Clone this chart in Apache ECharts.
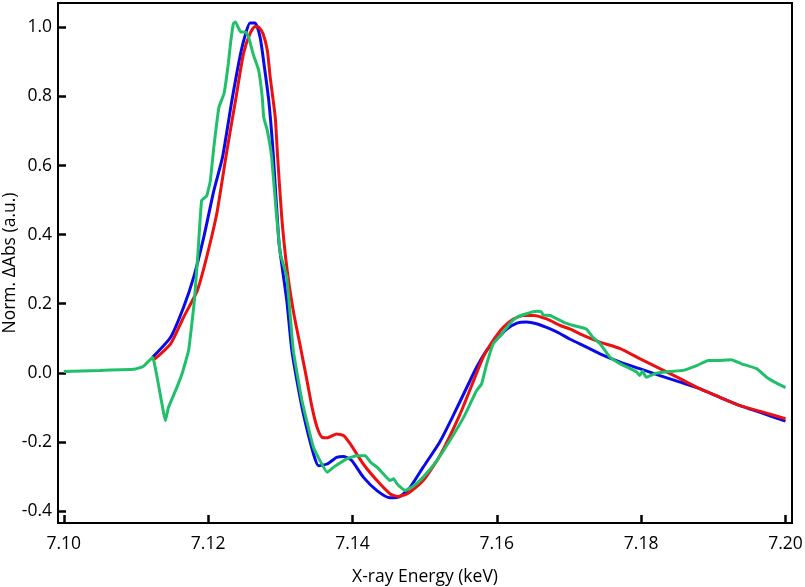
<!DOCTYPE html>
<html>
<head>
<meta charset="utf-8">
<script src="https://cdn.jsdelivr.net/npm/echarts@6/dist/echarts.min.js"></script>
<style>html,body{margin:0;padding:0;background:#fff}#c{width:805px;height:587px}</style>
</head>
<body>
<div id="c"></div>
<script>
const xTicks = [7.10, 7.12, 7.14, 7.16, 7.18, 7.20];
const yTicks = [-0.4, -0.2, 0.0, 0.2, 0.4, 0.6, 0.8, 1.0];

const blue = [
[7.1123,0.045],[7.1148,0.103],[7.1166,0.190],[7.1180,0.277],[7.1194,0.393],[7.1208,0.528],[7.1220,0.625],
[7.1233,0.789],[7.1245,0.924],[7.1252,0.982],[7.1258,1.013],[7.1265,1.013],[7.1272,0.972],[7.1278,0.885],
[7.1284,0.789],[7.1290,0.640],[7.1298,0.380],[7.1303,0.300],[7.1309,0.209],[7.1316,0.065],[7.1323,-0.022],
[7.1332,-0.119],[7.1346,-0.235],[7.1353,-0.269],[7.1365,-0.264],[7.1378,-0.245],[7.1388,-0.242],[7.1399,-0.254],
[7.1415,-0.302],[7.1434,-0.341],[7.1452,-0.362],[7.1466,-0.358],[7.1480,-0.331],[7.1498,-0.273],[7.1521,-0.200],
[7.1540,-0.122],[7.1558,-0.044],[7.1572,0.016],[7.1586,0.065],[7.1600,0.098],[7.1614,0.127],[7.1628,0.144],
[7.1641,0.147],[7.1655,0.142],[7.1674,0.127],[7.1688,0.113],[7.1701,0.098],[7.1715,0.084],[7.1743,0.055],
[7.1771,0.031],[7.1798,0.012],[7.1826,-0.008],[7.1854,-0.027],[7.1881,-0.046],[7.1909,-0.071],[7.1937,-0.095],
[7.1964,-0.114],[7.2000,-0.140]
];

const red = [
[7.1125,0.038],[7.1148,0.084],[7.1166,0.161],[7.1185,0.238],[7.1198,0.335],[7.1212,0.461],[7.1225,0.630],
[7.1238,0.789],[7.1249,0.924],[7.1258,0.982],[7.1265,1.003],[7.1270,1.001],[7.1276,0.982],[7.1282,0.934],
[7.1286,0.856],[7.1293,0.740],[7.1296,0.635],[7.1302,0.451],[7.1309,0.306],[7.1318,0.180],[7.1328,0.074],
[7.1337,-0.022],[7.1344,-0.100],[7.1351,-0.158],[7.1358,-0.187],[7.1365,-0.188],[7.1378,-0.177],[7.1388,-0.182],
[7.1397,-0.206],[7.1415,-0.264],[7.1434,-0.312],[7.1452,-0.350],[7.1462,-0.358],[7.1476,-0.350],[7.1498,-0.312],
[7.1521,-0.240],[7.1549,-0.120],[7.1568,-0.022],[7.1581,0.045],[7.1595,0.094],[7.1609,0.132],[7.1623,0.156],
[7.1637,0.166],[7.1651,0.166],[7.1669,0.156],[7.1688,0.137],[7.1701,0.127],[7.1715,0.113],[7.1743,0.089],
[7.1771,0.070],[7.1798,0.041],[7.1826,0.012],[7.1854,-0.017],[7.1881,-0.046],[7.1909,-0.071],[7.1937,-0.095],
[7.1964,-0.111],[7.2000,-0.133]
];

const green = [
[7.1000,0.004],[7.1050,0.007],[7.1097,0.010],[7.1110,0.018],[7.1123,0.045],[7.1141,-0.138],[7.1145,-0.100],
[7.1155,-0.051],[7.1164,-0.002],[7.1173,0.065],[7.1181,0.210],[7.1186,0.350],[7.1191,0.499],[7.1198,0.512],
[7.1203,0.555],[7.1208,0.655],[7.1215,0.769],[7.1222,0.808],[7.1228,0.895],[7.1231,0.953],[7.1235,1.011],
[7.1238,1.016],[7.1245,0.987],[7.1252,0.987],[7.1256,0.972],[7.1263,0.919],[7.1270,0.876],[7.1275,0.798],
[7.1277,0.740],[7.1282,0.702],[7.1288,0.625],[7.1295,0.450],[7.1300,0.345],[7.1302,0.330],[7.1309,0.277],
[7.1318,0.065],[7.1330,-0.080],[7.1346,-0.216],[7.1365,-0.288],[7.1374,-0.273],[7.1392,-0.249],[7.1406,-0.240],
[7.1418,-0.240],[7.1425,-0.259],[7.1434,-0.273],[7.1443,-0.293],[7.1452,-0.312],[7.1457,-0.307],[7.1462,-0.322],
[7.1473,-0.341],[7.1485,-0.327],[7.1498,-0.302],[7.1517,-0.254],[7.1535,-0.196],[7.1554,-0.129],[7.1572,-0.051],
[7.1579,-0.032],[7.1586,0.026],[7.1595,0.084],[7.1607,0.113],[7.1618,0.142],[7.1628,0.161],[7.1641,0.171],
[7.1655,0.178],[7.1662,0.176],[7.1664,0.168],[7.1674,0.166],[7.1692,0.147],[7.1706,0.137],[7.1724,0.127],
[7.1733,0.103],[7.1743,0.084],[7.1757,0.045],[7.1771,0.026],[7.1785,0.012],[7.1794,0.002],[7.1798,-0.008],
[7.1802,0.005],[7.1807,-0.013],[7.1821,-0.001],[7.1840,0.004],[7.1858,0.007],[7.1877,0.021],[7.1893,0.036],
[7.1909,0.036],[7.1925,0.038],[7.1939,0.026],[7.1960,0.012],[7.1974,-0.013],[7.1985,-0.027],[7.2000,-0.043]
];

const font = '"Open Sans", sans-serif';
const chart = echarts.init(document.getElementById('c'), null, {renderer: 'canvas'});
chart.setOption({
  animation: false,
  backgroundColor: '#fff',
  grid: {left: 58, right: 13, top: 3, bottom: 64, show: true, borderColor: '#000', borderWidth: 2,
    containLabel: false, outerBoundsMode: 'none'},
  xAxis: {
    type: 'value', min: 7.0992, max: 7.2009,
    name: 'X-ray Energy (keV)', nameLocation: 'middle', nameGap: 45, nameMoveOverlap: false,
    nameTextStyle: {fontFamily: font, fontSize: 17.5, color: '#000'},
    axisLine: {show: true, onZero: false, lineStyle: {color: '#000', width: 2}},
    axisTick: {show: true, inside: true, length: 8, lineStyle: {color: '#000', width: 2.5}, customValues: xTicks},
    axisLabel: {show: true, margin: 12, fontFamily: font, fontSize: 17.5, color: '#000', customValues: xTicks,
      formatter: v => v.toFixed(2)},
    splitLine: {show: false}
  },
  yAxis: {
    type: 'value', min: -0.4348, max: 1.0707,
    name: 'Norm. ΔAbs (a.u.)', nameLocation: 'middle', nameGap: 39, nameMoveOverlap: false,
    nameTextStyle: {fontFamily: font, fontSize: 17.5, color: '#000'},
    axisLine: {show: true, onZero: false, lineStyle: {color: '#000', width: 2}},
    axisTick: {show: true, inside: true, length: 8, lineStyle: {color: '#000', width: 2.5}, customValues: yTicks},
    axisLabel: {show: true, margin: 6, fontFamily: font, fontSize: 17.5, color: '#000', customValues: yTicks,
      formatter: v => v.toFixed(1)},
    splitLine: {show: false}
  },
  series: [
    {type: 'line', data: blue, showSymbol: false, smooth: 0.2, lineStyle: {color: '#0a0ae8', width: 3}, z: 2},
    {type: 'line', data: red, showSymbol: false, smooth: 0.2, lineStyle: {color: '#ec1010', width: 3}, z: 3},
    {type: 'line', data: green, showSymbol: false, smooth: 0.1, lineStyle: {color: '#20c06a', width: 3}, z: 4}
  ]
});
</script>
</body>
</html>
